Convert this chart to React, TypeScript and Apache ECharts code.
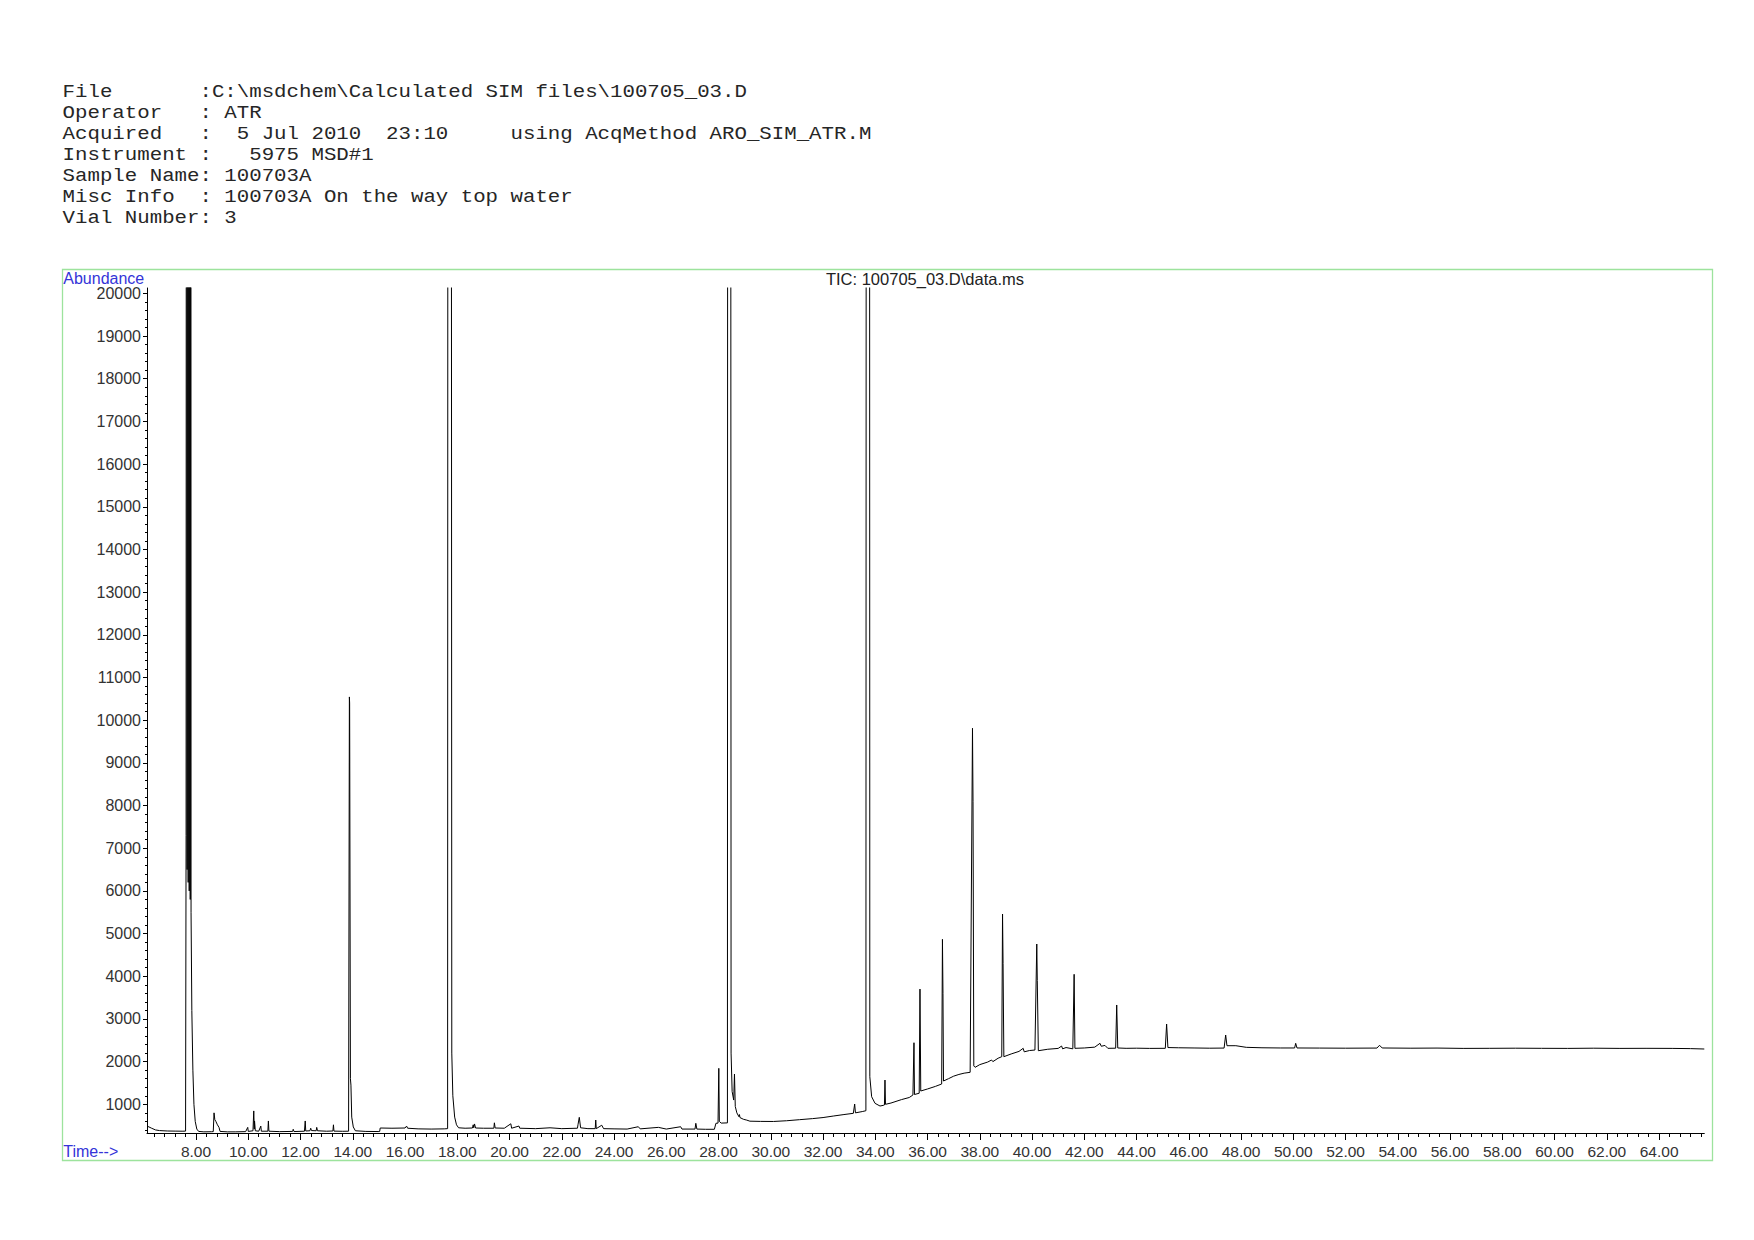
import React, { useEffect, useRef } from "react";
import * as echarts from "echarts";

// ---------- texts ----------
const headerLines = [
  "File       :C:\\msdchem\\Calculated SIM files\\100705_03.D",
  "Operator   : ATR",
  "Acquired   :  5 Jul 2010  23:10     using AcqMethod ARO_SIM_ATR.M",
  "Instrument :   5975 MSD#1",
  "Sample Name: 100703A",
  "Misc Info  : 100703A On the way top water",
  "Vial Number: 3",
];
const plotTitle = "TIC: 100705_03.D\\data.ms";
const yAxisName = "Abundance";
const xAxisName = "Time-->";

// ---------- axes ----------
const timeMin = 6.124;
const timeMax = 65.73;
const abundanceMin = 328;
const abundanceMax = 20126;
const yMajorTicks = [
  1000, 2000, 3000, 4000, 5000, 6000, 7000, 8000, 9000, 10000,
  11000, 12000, 13000, 14000, 15000, 16000, 17000, 18000, 19000, 20000,
];
const xMajorTicks = [
  8, 10, 12, 14, 16, 18, 20, 22, 24, 26, 28, 30, 32, 34, 36, 38, 40, 42, 44,
  46, 48, 50, 52, 54, 56, 58, 60, 62, 64,
];
const yMinorTicks: number[] = [];
for (let v = 400; v <= 20000; v += 200) if (v % 1000 !== 0) yMinorTicks.push(v);
const xMinorTicks: number[] = [];
for (let k = 16; k * 0.4 <= timeMax; k++) if (k % 5 !== 0) xMinorTicks.push(+(k * 0.4).toFixed(2));

// ---------- chromatogram [time (min), abundance] ----------
const segEarly: [number, number][] = [
  [6.124, 490], [6.2, 470], [6.3, 440], [6.45, 400], [6.6, 385], [6.9, 375], [7.2, 372], [7.5, 370], [7.6, 372],
  [7.62, 7300], [7.64, 60000], [7.66, 6500], [7.68, 60000], [7.7, 6200], [7.72, 60000], [7.74, 6000],
  [7.76, 60000], [7.78, 5800], [7.8, 60000], [7.81, 5500], [7.84, 3200], [7.88, 1800], [7.92, 1000],
  [7.97, 600], [8.03, 420], [8.1, 365], [8.3, 355], [8.6, 358],
  [8.66, 360], [8.69, 800], [8.72, 640], [8.76, 600], [8.82, 520], [8.88, 460], [8.92, 365], [9.2, 355],
  [9.5, 355], [9.9, 360], [9.98, 460], [10.0, 365], [10.18, 380], [10.21, 845], [10.23, 420], [10.24, 610],
  [10.27, 380], [10.4, 370], [10.48, 490], [10.5, 370], [10.75, 370], [10.77, 610], [10.79, 370],
  [11.2, 360], [11.7, 365], [11.72, 415], [11.75, 362], [12.15, 370], [12.18, 610], [12.2, 375],
  [12.36, 380], [12.39, 440], [12.42, 385], [12.6, 380], [12.62, 460], [12.65, 380], [13.0, 370],
  [13.24, 375], [13.26, 520], [13.28, 372], [13.6, 368], [13.84, 370],
  [13.87, 10545], [13.88, 10400], [13.91, 1600], [13.93, 1450], [13.96, 700], [14.02, 470], [14.1, 380],
  [14.5, 365], [15.0, 362],
];
const segMiddle: [number, number][] = [
  [15.03, 365], [15.05, 445], [15.5, 440], [16.0, 445], [16.06, 490], [16.1, 440], [16.5, 425], [17.0, 420],
  [17.5, 425], [17.63, 430], [17.65, 60000], [17.75, 60000], [17.79, 2200], [17.83, 1200], [17.9, 700],
  [17.97, 520], [18.05, 450], [18.3, 440], [18.58, 445], [18.61, 520], [18.63, 450], [18.66, 540],
  [18.7, 445], [19.0, 440], [19.4, 440], [19.42, 567], [19.45, 445], [19.8, 440], [20.05, 544],
  [20.08, 440], [20.36, 491], [20.39, 440], [21.0, 430], [21.55, 450], [22.0, 430], [22.6, 440],
  [22.62, 520], [22.67, 695], [22.72, 450], [23.0, 430], [23.28, 430], [23.3, 632], [23.32, 430],
  [23.53, 510], [23.6, 430], [24.0, 425], [24.5, 420], [24.93, 475], [25.0, 425], [25.7, 460], [26.0, 420],
  [26.55, 475], [26.6, 420], [27.1, 420], [27.13, 555], [27.17, 420], [27.5, 415], [27.84, 415],
  [27.9, 555], [27.98, 560],
];
const segLate: [number, number][] = [
  [28.01, 1843], [28.03, 600], [28.1, 560], [28.34, 565], [28.36, 60000], [28.45, 60000], [28.48, 2200],
  [28.52, 1300], [28.58, 1100], [28.61, 1710], [28.64, 950], [28.7, 800], [28.78, 710], [28.8, 760],
  [28.82, 690], [28.95, 650], [29.08, 630], [29.2, 605], [29.6, 600], [30.1, 598], [30.6, 615], [31.1, 640],
  [31.6, 665], [32.0, 690], [32.39, 725], [32.8, 760], [33.16, 789], [33.21, 1007], [33.24, 800],
  [33.5, 830], [33.64, 850], [33.67, 60000], [33.77, 60000], [33.79, 1647], [33.86, 1178], [33.99, 1023],
  [34.18, 960], [34.3, 975], [34.35, 985], [34.37, 1569], [34.39, 1000], [34.6, 1030], [35.0, 1110],
  [35.3, 1160], [35.44, 1218], [35.48, 2443], [35.5, 1230], [35.68, 1260], [35.71, 3700], [35.74, 1312],
  [36.0, 1360], [36.3, 1420], [36.54, 1476], [36.57, 4866], [36.59, 3600], [36.61, 1546], [36.8, 1600],
  [37.0, 1660], [37.2, 1700], [37.4, 1730], [37.63, 1750], [37.72, 9811], [37.74, 8100], [37.77, 1900],
  [37.82, 1867], [38.0, 1930], [38.3, 1990], [38.45, 2038], [38.5, 2000], [38.7, 2080], [38.84, 2116],
  [38.87, 5459], [38.89, 4300], [38.92, 2116], [39.2, 2180], [39.5, 2240], [39.66, 2312], [39.7, 2230],
  [39.9, 2260], [40.11, 2272], [40.18, 4756], [40.2, 3900], [40.24, 2256], [40.6, 2290], [41.0, 2310],
  [41.13, 2366], [41.17, 2300], [41.3, 2330], [41.56, 2300], [41.61, 4046], [41.64, 2312], [42.0, 2320],
  [42.4, 2340], [42.6, 2429], [42.65, 2360], [42.79, 2380], [42.9, 2312], [43.2, 2315], [43.24, 3327],
  [43.28, 2320],
];
const segTail: [number, number][] = [
  [43.6, 2312], [44.0, 2315], [44.5, 2310], [45.1, 2312], [45.15, 2881], [45.2, 2330], [45.6, 2325],
  [46.2, 2320], [46.8, 2315], [47.35, 2318], [47.41, 2624], [47.46, 2373], [47.8, 2373], [48.2, 2335],
  [48.8, 2325], [49.5, 2320], [50.05, 2320], [50.09, 2429], [50.14, 2320], [51.0, 2318], [52.0, 2315],
  [53.2, 2318], [53.3, 2383], [53.4, 2320], [54.5, 2315], [55.5, 2318], [56.5, 2310], [57.5, 2312],
  [58.5, 2315], [59.5, 2312], [60.5, 2310], [61.5, 2315], [62.5, 2310], [63.5, 2312], [64.5, 2310],
  [65.2, 2305], [65.73, 2296],
];

const SANS = '"Liberation Sans", Arial, sans-serif';

export default function App() {
  const ref = useRef<HTMLDivElement>(null);
  useEffect(() => {
    if (!ref.current) return;
    const chart = echarts.init(ref.current, null, { renderer: "svg" });
    const data = [...segEarly, ...segMiddle, ...segLate, ...segTail];
    const headerGraphics = headerLines.map((line, i) => ({
      type: "text",
      x: 62.6,
      y: 92.8 + i * 20.9,
      scaleX: 1.153,
      style: {
        text: line,
        font: '18px "Liberation Mono", monospace',
        fill: "#262626",
        textVerticalAlign: "middle",
      },
    }));
    chart.setOption({
      animation: false,
      backgroundColor: "#ffffff",
      grid: { left: 147, right: 49.7, top: 288, bottom: 107 },
      xAxis: [
        {
          type: "value",
          min: timeMin,
          max: timeMax,
          position: "bottom",
          axisLine: { show: true, onZero: false, lineStyle: { color: "#000", width: 1 } },
          axisTick: { show: true, length: 7, customValues: xMajorTicks, lineStyle: { color: "#000" } },
          axisLabel: {
            customValues: xMajorTicks,
            formatter: (v: number) => v.toFixed(2),
            margin: 10,
            fontSize: 15.5,
            fontFamily: SANS,
            color: "#333",
          },
          splitLine: { show: false },
        },
        {
          type: "value",
          min: timeMin,
          max: timeMax,
          position: "bottom",
          axisLine: { show: false, onZero: false },
          axisTick: { show: true, length: 4, customValues: xMinorTicks, lineStyle: { color: "#000" } },
          axisLabel: { show: false },
          splitLine: { show: false },
        },
      ],
      yAxis: [
        {
          type: "value",
          min: abundanceMin,
          max: abundanceMax,
          position: "left",
          axisLine: { show: true, onZero: false, lineStyle: { color: "#000", width: 1 } },
          axisTick: { show: true, length: 4, customValues: yMajorTicks, lineStyle: { color: "#000" } },
          axisLabel: {
            customValues: yMajorTicks,
            formatter: (v: number) => String(v),
            margin: 6,
            fontSize: 16,
            fontFamily: SANS,
            color: "#333",
          },
          splitLine: { show: false },
        },
        {
          type: "value",
          min: abundanceMin,
          max: abundanceMax,
          position: "left",
          axisLine: { show: false, onZero: false },
          axisTick: { show: true, length: 2, customValues: yMinorTicks, lineStyle: { color: "#000" } },
          axisLabel: { show: false },
          splitLine: { show: false },
        },
      ],
      graphic: [
        {
          type: "rect",
          shape: { x: 62.5, y: 269.5, width: 1650, height: 891 },
          style: { fill: "none", stroke: "#9de39d", lineWidth: 1.3 },
          silent: true,
        },
        ...headerGraphics,
        {
          type: "text",
          x: 925,
          y: 279,
          style: {
            text: plotTitle,
            font: `16.5px ${SANS}`,
            fill: "#222",
            textAlign: "center",
            textVerticalAlign: "middle",
          },
        },
        {
          type: "text",
          x: 63.3,
          y: 278,
          style: {
            text: yAxisName,
            font: `16px ${SANS}`,
            fill: "#3434d8",
            textVerticalAlign: "middle",
          },
        },
        {
          type: "text",
          x: 63.3,
          y: 1151.5,
          style: {
            text: xAxisName,
            font: `16px ${SANS}`,
            fill: "#3434d8",
            textVerticalAlign: "middle",
          },
        },
      ],
      series: [
        {
          type: "line",
          xAxisIndex: 0,
          yAxisIndex: 0,
          data,
          symbol: "none",
          showSymbol: false,
          clip: true,
          silent: true,
          lineStyle: { color: "#000", width: 1 },
        },
      ],
    });
    return () => chart.dispose();
  }, []);
  return (
    <div
      ref={ref}
      style={{ position: "fixed", left: 0, top: 0, width: 1754, height: 1240, background: "#fff" }}
    />
  );
}
